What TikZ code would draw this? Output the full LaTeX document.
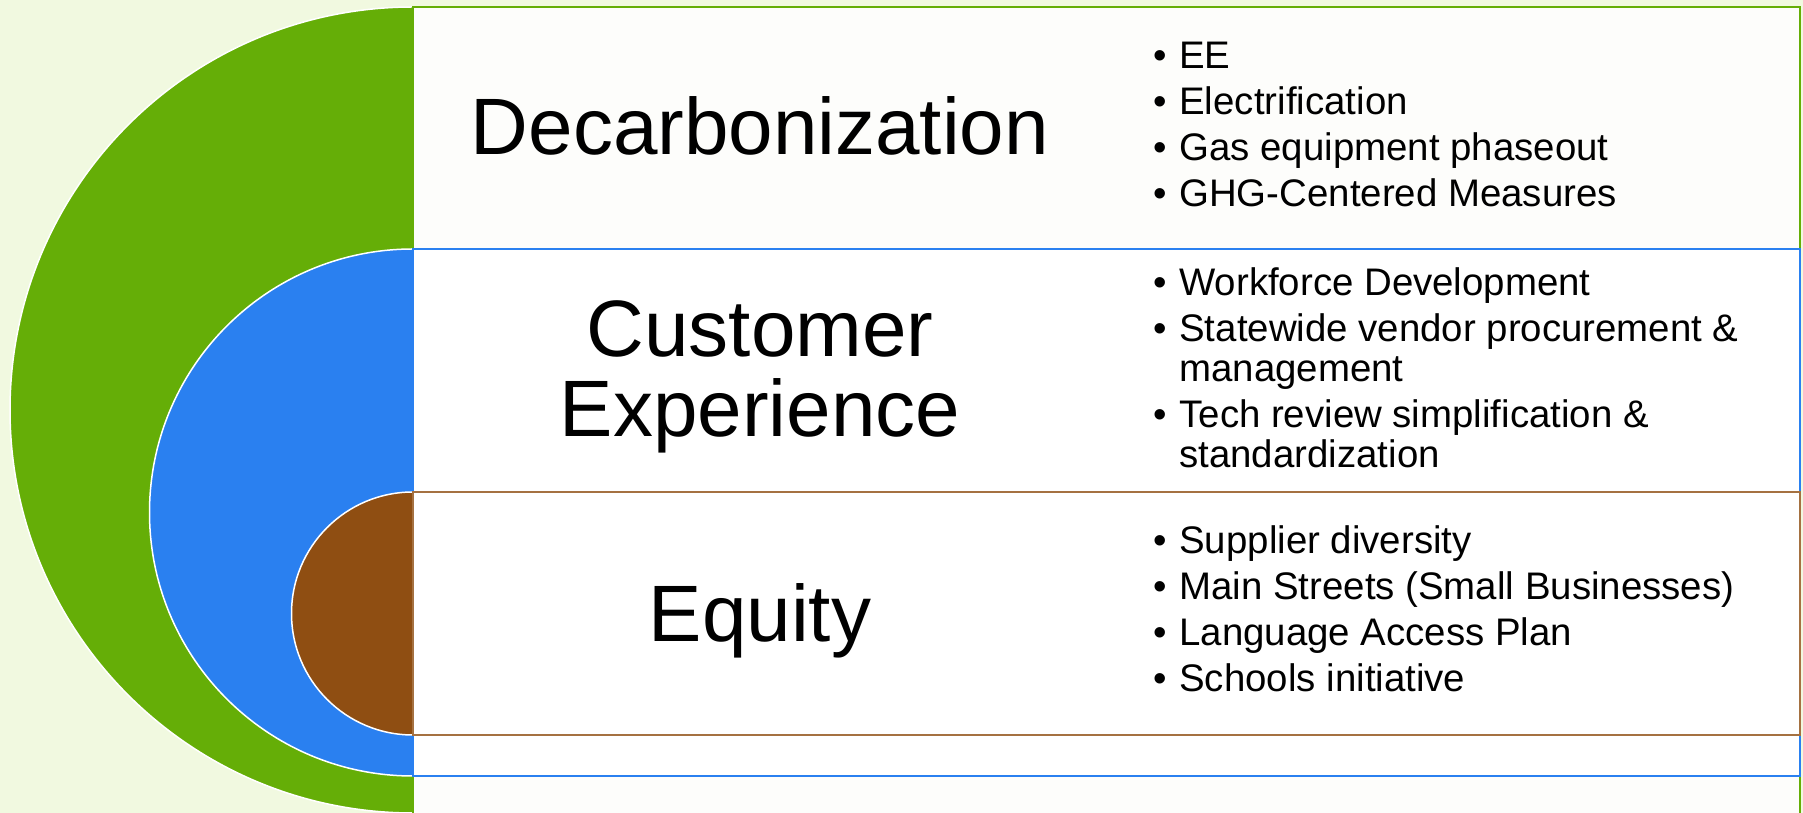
\documentclass[tikz,border=0pt]{standalone}
\usepackage{fontspec}
\setmainfont{Liberation Sans}
\definecolor{leafgreen}{RGB}{101,174,7}
\definecolor{skyblue}{RGB}{42,128,240}
\definecolor{rustbrown}{RGB}{143,78,18}
\definecolor{palegreen}{RGB}{241,249,224}
\definecolor{offwhite}{RGB}{253,253,251}
\newcommand{\bitem}[1]{\makebox[13pt][l]{\textbullet}#1}
\newcommand{\bcont}[1]{\hspace*{13pt}#1}
\begin{document}
\begin{tikzpicture}[x=0.5pt,y=0.5pt,
    head/.style={font=\fontsize{40}{40}\selectfont,align=center,inner sep=0pt,anchor=base},
    items/.style={font=\fontsize{19.2}{20}\selectfont,align=left,inner sep=0pt,anchor=base west},
    rim/.style={draw=white,line width=0.75pt},
    band/.style={line width=1.2pt}]
  \fill[palegreen] (0,0) rectangle (1803,813);
  \clip (0,0) rectangle (1803,813);
  %% outer ring
  \fill[leafgreen] (413,806) arc (90:270:403) -- cycle;
  \draw[rim] (413,806) arc (90:270:403);
  \draw[band,draw=leafgreen,fill=offwhite] (413,806) rectangle (1800,-20);
  %% middle ring
  \fill[skyblue] (413,564) arc (90:270:263.5) -- cycle;
  \draw[rim] (413,564) arc (90:270:263.5);
  \draw[band,draw=skyblue,fill=white] (413,564) rectangle (1800,37);
  %% inner ring
  \fill[rustbrown] (413,321) arc (90:270:121.5) -- cycle;
  \draw[rim] (413,321) arc (90:270:121.5);
  \draw[band,draw=rustbrown!80!white,fill=white] (413,321) rectangle (1800,78);
  %% headings (base = last line)
  \node[head] (dec) at (760,658) {Decarbonization};
  \node[head] (cx) at (760,376) {Customer\\Experience};
  \node[head] (eq) at (760,171) {Equity};
  %% lists (base = last line)
  \node[items] (dec-list) at (1153,606) {\bitem{EE}\\[3pt]
    \bitem{Electrification}\\[3pt]
    \bitem{Gas equipment phaseout}\\[3pt]
    \bitem{GHG-Centered Measures}};
  \node[items] (cx-list) at (1153,345) {\bitem{Workforce Development}\\[3pt]
    \bitem{Statewide vendor procurement \&}\\
    \bcont{management}\\[3pt]
    \bitem{Tech review simplification \&}\\
    \bcont{standardization}};
  \node[items] (eq-list) at (1153,121) {\bitem{Supplier diversity}\\[3pt]
    \bitem{Main Streets (Small Businesses)}\\[3pt]
    \bitem{Language Access Plan}\\[3pt]
    \bitem{Schools initiative}};
\end{tikzpicture}
\end{document}
